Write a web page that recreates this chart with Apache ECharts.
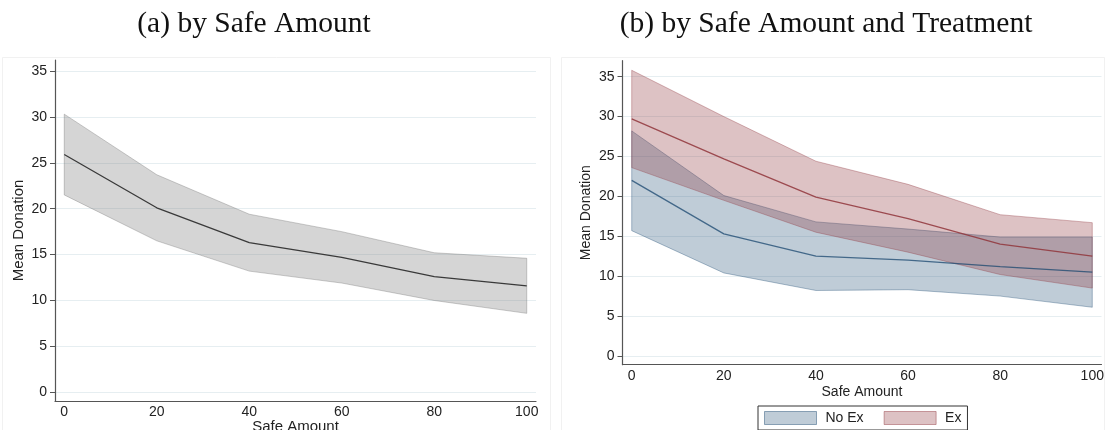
<!DOCTYPE html>
<html>
<head>
<meta charset="utf-8">
<script src="https://cdn.jsdelivr.net/npm/echarts@6/dist/echarts.min.js"></script>
<style>
  html, body { margin: 0; padding: 0; background: #ffffff; }
  #chart { width: 1107px; height: 430px; }
</style>
</head>
<body>
<div id="chart"></div>
<script>
// Safe amount levels (x axis)
const safeAmounts = [0, 20, 40, 60, 80, 100];
const xTickLabels = [0, 20, 40, 60, 80, 100];
const yTickLabels = [0, 5, 10, 15, 20, 25, 30, 35];

// Panel (a): pooled mean donation with confidence band
const allMean = [25.9, 20.1, 16.3, 14.7, 12.6, 11.6];
const allLow  = [21.5, 16.5, 13.2, 11.9, 10.0, 8.6];
const allHigh = [30.3, 23.7, 19.4, 17.5, 15.2, 14.6];

// Panel (b): by treatment
const noExMean = [22.0, 15.3, 12.5, 12.0, 11.2, 10.5];
const noExLow  = [15.7, 10.4, 8.2, 8.3, 7.5, 6.1];
const noExHigh = [28.2, 20.1, 16.8, 15.9, 14.9, 14.9];

const exMean = [29.7, 24.7, 19.9, 17.2, 14.0, 12.5];
const exLow  = [23.6, 19.5, 15.5, 13.0, 10.2, 8.5];
const exHigh = [35.8, 30.0, 24.4, 21.5, 17.7, 16.7];

const SANS = 'Liberation Sans, Arial, sans-serif';
const SERIF = 'Liberation Serif, Times New Roman, serif';

const GRAY_FILL = 'rgba(120,120,120,0.31)';
const GRAY_EDGE = 'rgba(110,110,110,0.35)';
const NAVY_FILL = 'rgba(26,71,111,0.28)';
const NAVY_EDGE = 'rgba(26,71,111,0.35)';
const MAROON_FILL = 'rgba(144,53,59,0.30)';
const MAROON_EDGE = 'rgba(144,53,59,0.35)';

// Confidence band: one polygon through upper bounds then back along lower bounds
function band(name, axisIndex, low, high, fill, edge) {
  return {
    type: 'custom',
    name: name,
    xAxisIndex: axisIndex,
    yAxisIndex: axisIndex,
    silent: true,
    data: safeAmounts.map((x, i) => [x, low[i], high[i]]),
    encode: { x: 0, y: [1, 2] },
    itemStyle: { color: fill, borderColor: edge },
    renderItem: function (params, api) {
      if (params.dataIndex !== 0) return null;
      const upper = safeAmounts.map((x, i) => api.coord([x, high[i]]));
      const lower = safeAmounts.map((x, i) => api.coord([x, low[i]])).reverse();
      return {
        type: 'polygon',
        shape: { points: upper.concat(lower) },
        style: { fill: fill, stroke: edge, lineWidth: 1 }
      };
    }
  };
}

function meanLine(axisIndex, values, color) {
  return {
    type: 'line',
    xAxisIndex: axisIndex,
    yAxisIndex: axisIndex,
    silent: true,
    symbol: 'none',
    data: safeAmounts.map((x, i) => [x, values[i]]),
    lineStyle: { color: color, width: 1.3 },
    z: 5
  };
}

function xAxis(gridIndex, gap, nameSize) {
  return {
    type: 'value',
    gridIndex: gridIndex,
    min: -2,
    max: 102,
    name: 'Safe Amount',
    nameLocation: 'middle',
    nameGap: gap,
    nameMoveOverlap: false,
    nameTextStyle: { fontFamily: SANS, fontSize: nameSize, color: '#222' },
    axisLine: { show: true, onZero: false, lineStyle: { color: '#555', width: 1.2 } },
    axisTick: { show: false, customValues: xTickLabels },
    axisLabel: { customValues: xTickLabels, fontFamily: SANS, fontSize: 14, color: '#222', margin: 4 },
    splitLine: { show: false }
  };
}

function yAxis(gridIndex, min, max, nameSize) {
  return {
    type: 'value',
    gridIndex: gridIndex,
    min: min,
    max: max,
    name: 'Mean Donation',
    nameLocation: 'middle',
    nameGap: 29,
    nameMoveOverlap: false,
    nameTextStyle: { fontFamily: SANS, fontSize: nameSize, color: '#222' },
    axisLine: { show: true, onZero: false, lineStyle: { color: '#555', width: 1.2 } },
    axisTick: { show: true, length: 5, customValues: yTickLabels, lineStyle: { color: '#555' } },
    axisLabel: { customValues: yTickLabels, fontFamily: SANS, fontSize: 14, color: '#222', margin: 8 },
    splitLine: { show: true, lineStyle: { color: '#e6eef1', width: 1 } }
  };
}

const chart = echarts.init(document.getElementById('chart'), null, { renderer: 'canvas' });

chart.setOption({
  animation: false,
  backgroundColor: '#ffffff',
  graphic: [
    { type: 'rect', silent: true, z: -10,
      shape: { x: 2.5, y: 57.5, width: 548, height: 380 },
      style: { fill: 'none', stroke: '#f1f1f1', lineWidth: 1 } },
    { type: 'rect', silent: true, z: -10,
      shape: { x: 561.5, y: 57.5, width: 543, height: 380 },
      style: { fill: 'none', stroke: '#f1f1f1', lineWidth: 1 } },
    { type: 'text', silent: true, x: 254, y: 24,
      style: { text: '(a) by Safe Amount', font: '29.5px ' + SERIF, fill: '#111',
               textAlign: 'center', textVerticalAlign: 'middle' } },
    { type: 'text', silent: true, x: 826, y: 24,
      style: { text: '(b) by Safe Amount and Treatment', font: '29.5px ' + SERIF, fill: '#111',
               textAlign: 'center', textVerticalAlign: 'middle' } }
  ],
  grid: [
    { left: 55, top: 60, width: 481, height: 341, outerBoundsMode: 'none', containLabel: false },
    { left: 622.5, top: 60.7, width: 479, height: 304, outerBoundsMode: 'none', containLabel: false }
  ],
  xAxis: [xAxis(0, 18, 15), xAxis(1, 20, 14)],
  yAxis: [yAxis(0, -0.95, 36.2, 15), yAxis(1, -1.1, 37.0, 14)],
  legend: {
    left: 758,
    top: 406,
    orient: 'horizontal',
    padding: [5, 6, 5, 6],
    borderColor: '#333',
    borderWidth: 1,
    borderRadius: 0,
    itemWidth: 52,
    itemHeight: 13,
    itemGap: 20,
    selectedMode: false,
    icon: 'rect',
    textStyle: { fontFamily: SANS, fontSize: 14, color: '#222', padding: [0, 0, 0, 4] },
    data: [
      { name: 'No Ex', itemStyle: { color: NAVY_FILL, borderColor: 'rgba(26,71,111,0.45)', borderWidth: 1 } },
      { name: 'Ex', itemStyle: { color: MAROON_FILL, borderColor: 'rgba(144,53,59,0.45)', borderWidth: 1 } }
    ]
  },
  series: [
    band('All', 0, allLow, allHigh, GRAY_FILL, GRAY_EDGE),
    meanLine(0, allMean, '#3a3a3a'),
    band('No Ex', 1, noExLow, noExHigh, NAVY_FILL, NAVY_EDGE),
    band('Ex', 1, exLow, exHigh, MAROON_FILL, MAROON_EDGE),
    meanLine(1, noExMean, 'rgba(26,71,111,0.75)'),
    meanLine(1, exMean, 'rgba(144,53,59,0.85)')
  ]
});
</script>
</body>
</html>
